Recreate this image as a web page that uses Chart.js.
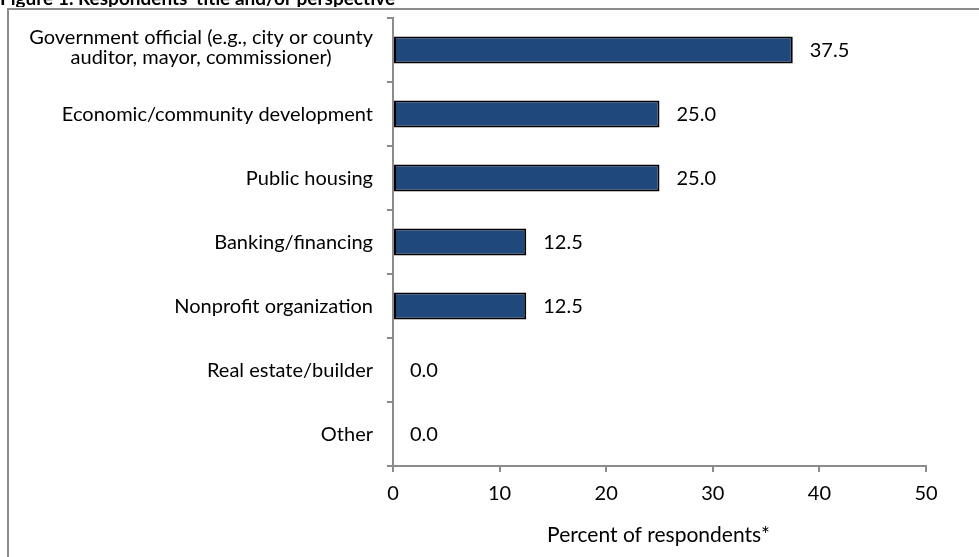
<!DOCTYPE html>
<html>
<head>
<meta charset="utf-8">
<script src="https://cdn.jsdelivr.net/npm/chart.js@4.4.1/dist/chart.umd.min.js"></script>
<style>
  html, body { margin: 0; padding: 0; background: #fff; }
  #wrap { position: relative; width: 979px; height: 557px; overflow: hidden; }
  canvas { display: block; }
</style>
</head>
<body>
<div id="wrap"><canvas id="c" width="979" height="557"></canvas></div>
<script>
const chartTitle = "Figure 1. Respondents' title and/or perspective";
const categories = [
  ["Government official (e.g., city or county", "auditor, mayor, commissioner)"],
  "Economic/community development",
  "Public housing",
  "Banking/financing",
  "Nonprofit organization",
  "Real estate/builder",
  "Other"
];
const percentValues = [37.5, 25.0, 25.0, 12.5, 12.5, 0.0, 0.0];
const xTicks = [0, 10, 20, 30, 40, 50];
const xAxisTitle = "Percent of respondents*";

const FONT = "Lato, 'Open Sans', sans-serif";
const AXIS_COLOR = "#8c8c8c";

const framePlugin = {
  id: 'frame',
  beforeDraw(chart) {
    const ctx = chart.ctx;
    ctx.save();
    ctx.fillStyle = '#fff';
    ctx.fillRect(0, 0, chart.width, chart.height);
    ctx.fillStyle = '#000';
    ctx.font = "bold 19px " + FONT;
    ctx.textAlign = 'left';
    ctx.textBaseline = 'alphabetic';
    ctx.fillText(chartTitle, 0, 5);
    ctx.fillStyle = '#fff';
    ctx.fillRect(0, 7, chart.width, 4);
    ctx.strokeStyle = AXIS_COLOR;
    ctx.lineWidth = 2;
    ctx.beginPath();
    ctx.moveTo(8, chart.height + 2);
    ctx.lineTo(8, 9);
    ctx.lineTo(chart.width + 2, 9);
    ctx.stroke();
    ctx.restore();
  }
};

const labelPlugin = {
  id: 'labels',
  afterDatasetsDraw(chart) {
    const ctx = chart.ctx;
    const yScale = chart.scales.y;
    const xScale = chart.scales.x;
    const meta = chart.getDatasetMeta(0);
    ctx.save();
    ctx.fillStyle = '#000';
    ctx.font = "20px " + FONT;
    ctx.textBaseline = 'alphabetic';
    // category labels (Excel style: block right-aligned, lines centred)
    const rightEdge = yScale.right - 20;
    categories.forEach((lab, i) => {
      const yc = yScale.getPixelForValue(i);
      const lines = Array.isArray(lab) ? lab : [lab];
      if (lines.length === 1) {
        ctx.textAlign = 'right';
        ctx.fillText(lines[0], rightEdge, yc + 7);
      } else {
        const widest = Math.max(...lines.map(l => ctx.measureText(l).width));
        ctx.textAlign = 'center';
        const x = rightEdge - widest / 2;
        const lh = 20;
        lines.forEach((l, k) => {
          const y = yc + 4 + (k - (lines.length - 1) / 2) * lh;
          ctx.fillText(l, x, y);
        });
      }
    });
    // value labels
    ctx.textAlign = 'left';
    meta.data.forEach((bar, i) => {
      ctx.fillText(percentValues[i].toFixed(1), bar.x + 17, bar.y + 7);
    });
    // x tick labels
    ctx.textAlign = 'center';
    const axisY = xScale.top;
    xTicks.forEach(v => {
      ctx.fillText(String(v), xScale.getPixelForValue(v), axisY + 34);
    });
    // x axis title
    ctx.font = "21px " + FONT;
    ctx.fillText(xAxisTitle, (xScale.left + xScale.right) / 2 - 1, axisY + 76);
    ctx.restore();
  }
};

new Chart(document.getElementById('c'), {
  type: 'bar',
  data: {
    labels: categories,
    datasets: [{
      data: percentValues,
      backgroundColor: '#1F497D',
      borderColor: '#000',
      borderWidth: ctx => (percentValues[ctx.dataIndex] === 0 ? 0 : 2),
      borderSkipped: false,
      categoryPercentage: 1.0,
      barPercentage: 0.42
    }]
  },
  options: {
    indexAxis: 'y',
    responsive: false,
    animation: false,
    devicePixelRatio: 1,
    layout: { padding: { top: 18, right: 53, left: 0, bottom: 0 } },
    plugins: { legend: { display: false }, tooltip: { enabled: false } },
    scales: {
      x: {
        type: 'linear',
        min: 0, max: 50,
        afterBuildTicks(scale) { scale.ticks = xTicks.map(v => ({ value: v })); },
        afterFit(scale) { scale.height = 91; },
        border: { display: true, color: AXIS_COLOR, width: 2 },
        grid: { drawOnChartArea: false, drawTicks: true, tickLength: 6, color: AXIS_COLOR, lineWidth: 2 },
        ticks: { display: false },
        title: { display: false }
      },
      y: {
        afterFit(scale) { scale.width = 393; },
        border: { display: true, color: AXIS_COLOR, width: 2 },
        grid: { drawOnChartArea: false, drawTicks: true, tickLength: 6, color: AXIS_COLOR, lineWidth: 2, offset: true },
        ticks: { display: false }
      }
    }
  },
  plugins: [framePlugin, labelPlugin]
});
</script>
</body>
</html>
